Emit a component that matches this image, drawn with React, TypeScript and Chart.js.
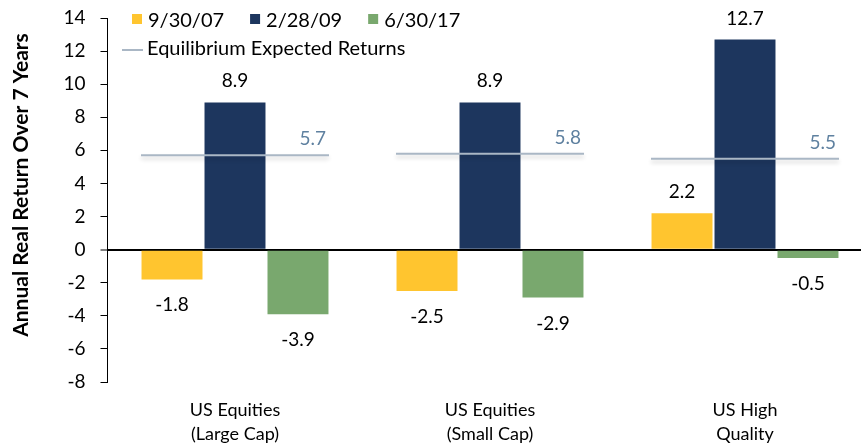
import React, { useEffect, useRef } from "react";
import { Chart, registerables } from "chart.js";

Chart.register(...registerables);

// ---- Data ----
const categories = [
  ["US Equities", "(Large Cap)"],
  ["US Equities", "(Small Cap)"],
  ["US High", "Quality"],
];
const seriesLabels = ["9/30/07", "2/28/09", "6/30/17"];
const values2007 = [-1.8, -2.5, 2.2];
const values2009 = [8.9, 8.9, 12.7];
const values2017 = [-3.9, -2.9, -0.5];
const equilibriumLabel = "Equilibrium Expected Returns";
const equilibrium = [5.7, 5.8, 5.5];
const yTitle = "Annual Real Return Over 7 Years";
const yMin = -8;
const yMax = 14;
const yStep = 2;

// ---- Styles ----
const COLORS = ["#FFC52F", "#1D365E", "#79A86E"];
const EQ_COLOR = "#AAB7C5";
const EQ_TEXT = "#5F81A0";
const FONT = "Lato, 'Open Sans', sans-serif";
const EQ_HALF = 94;

const shadowPlugin = {
  id: "eqShadow",
  beforeDatasetDraw(chart: any, args: any) {
    const ds = chart.data.datasets[args.index];
    if (ds.type !== "line") return;
    const ctx = chart.ctx;
    ctx.save();
    ctx.shadowColor = "rgba(0,0,0,0.18)";
    ctx.shadowBlur = 4;
    ctx.shadowOffsetY = 3;
  },
  afterDatasetDraw(chart: any, args: any) {
    const ds = chart.data.datasets[args.index];
    if (ds.type !== "line") return;
    chart.ctx.restore();
  },
};

const valueLabelsPlugin = {
  id: "valueLabels",
  afterDatasetsDraw(chart: any) {
    const ctx = chart.ctx;
    ctx.save();
    ctx.font = `19px ${FONT}`;
    ctx.textBaseline = "alphabetic";
    chart.data.datasets.forEach((ds: any, di: number) => {
      const meta = chart.getDatasetMeta(di);
      meta.data.forEach((el: any, i: number) => {
        const v = ds.data[i] as number;
        const txt = v.toFixed(1);
        if (ds.type === "line") {
          ctx.fillStyle = EQ_TEXT;
          ctx.textAlign = "right";
          ctx.fillText(txt, el.x + EQ_HALF - 3, el.y - 10);
        } else {
          ctx.fillStyle = "#000";
          ctx.textAlign = "center";
          if (v >= 0) ctx.fillText(txt, el.x, el.y - 15);
          else ctx.fillText(txt, el.x, el.y + 32);
        }
      });
    });
    ctx.restore();
  },
};

const legendPlugin = {
  id: "floatLegend",
  afterDraw(chart: any) {
    const ctx = chart.ctx;
    ctx.save();
    ctx.font = `20px ${FONT}`;
    ctx.textAlign = "left";
    ctx.textBaseline = "alphabetic";
    let x = 132;
    chart.data.datasets.forEach((ds: any) => {
      if (ds.type === "line") return;
      ctx.fillStyle = ds.backgroundColor;
      ctx.fillRect(x, 14, 10, 10);
      ctx.fillStyle = "#000";
      ctx.fillText(ds.label, x + 16, 27);
      x += 16 + ctx.measureText(ds.label).width + 26;
    });
    const eq = chart.data.datasets.find((d: any) => d.type === "line");
    if (eq) {
      ctx.strokeStyle = EQ_COLOR;
      ctx.lineWidth = 2;
      ctx.beginPath();
      ctx.moveTo(122, 50);
      ctx.lineTo(143, 50);
      ctx.stroke();
      ctx.fillStyle = "#000";
      ctx.fillText(eq.label, 147, 55);
    }
    // y-axis title
    ctx.translate(21, 185);
    ctx.rotate(-Math.PI / 2);
    ctx.font = `bold 21px ${FONT}`;
    ctx.textAlign = "center";
    ctx.textBaseline = "middle";
    ctx.fillStyle = "#000";
    ctx.fillText(yTitle, 0, 0);
    ctx.restore();
  },
};

export default function App() {
  const ref = useRef<HTMLCanvasElement>(null);
  useEffect(() => {
    if (!ref.current) return;
    const chart = new Chart(ref.current, {
      type: "bar",
      data: {
        labels: categories as any,
        datasets: [
          {
            type: "line",
            label: equilibriumLabel,
            data: equilibrium,
            showLine: false,
            pointStyle: "line",
            pointRadius: EQ_HALF,
            pointHoverRadius: EQ_HALF,
            pointBorderWidth: 2,
            pointBorderColor: EQ_COLOR,
            borderColor: EQ_COLOR,
            backgroundColor: EQ_COLOR,
            clip: false,
            order: -1,
          } as any,
          {
            type: "bar",
            label: seriesLabels[0],
            data: values2007,
            backgroundColor: COLORS[0],
            order: 1,
          },
          {
            type: "bar",
            label: seriesLabels[1],
            data: values2009,
            backgroundColor: COLORS[1],
            order: 1,
          },
          {
            type: "bar",
            label: seriesLabels[2],
            data: values2017,
            backgroundColor: COLORS[2],
            order: 1,
          },
        ],
      },
      options: {
        responsive: false,
        animation: false,
        events: [],
        devicePixelRatio: 1,
        datasets: {
          bar: { categoryPercentage: 0.741, barPercentage: 0.968 },
        },
        layout: { autoPadding: false, padding: { left: 0, right: 7.5, top: 18, bottom: 0 } },
        plugins: {
          legend: { display: false },
          tooltip: { enabled: false },
        },
        scales: {
          x: {
            type: "category",
            offset: true,
            grid: { display: false, drawTicks: false },
            border: { display: false },
            ticks: {
              color: "#000",
              font: { family: FONT, size: 18, lineHeight: 1.33 },
              padding: 16,
              maxRotation: 0,
              autoSkip: false,
            },
            afterFit: (s: any) => {
              s.height = 64;
            },
          },
          y: {
            min: yMin,
            max: yMax,
            ticks: {
              stepSize: yStep,
              autoSkip: false,
              color: "#000",
              font: { family: FONT, size: 19 },
              padding: 15,
            },
            grid: {
              color: (c: any) => (c.tick && c.tick.value === 0 ? "#000" : "rgba(0,0,0,0)"),
              lineWidth: (c: any) => (c.tick && c.tick.value === 0 ? 2 : 1),
              tickColor: "#000",
              tickWidth: 1,
              tickLength: 7,
            },
            border: { display: true, color: "#000", width: 1 },
            afterFit: (s: any) => {
              s.width = 107.5;
              s.paddingTop = 0;
              s.paddingBottom = 0;
            },
          },
        },
      },
      plugins: [shadowPlugin, valueLabelsPlugin, legendPlugin],
    });
    return () => chart.destroy();
  }, []);

  return (
    <div
      style={{
        position: "fixed",
        left: 0,
        top: 0,
        width: 861,
        height: 446,
        overflow: "hidden",
        background: "#fff",
      }}
    >
      <canvas ref={ref} width={880} height={446} style={{ display: "block" }} />
    </div>
  );
}
